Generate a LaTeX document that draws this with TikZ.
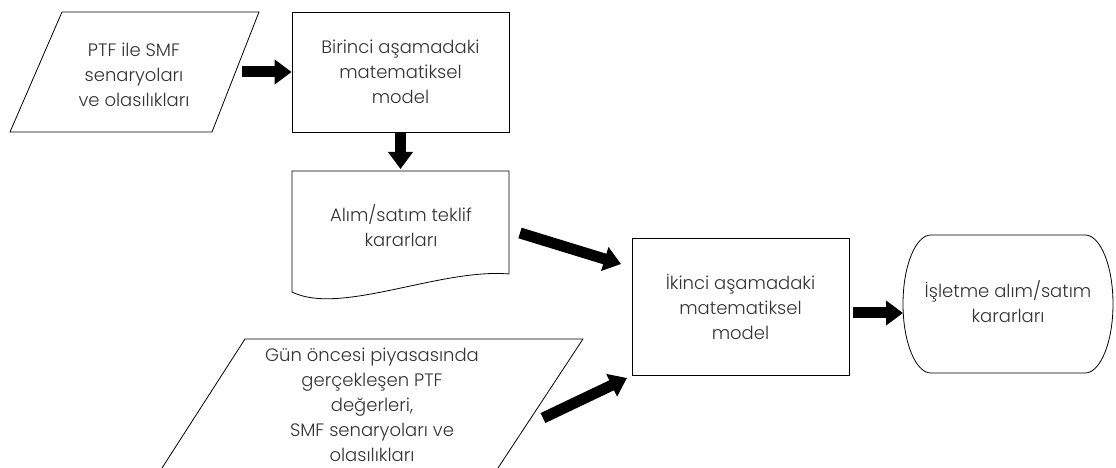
\documentclass[tikz,border=0pt]{standalone}
\usepackage{fontspec}
\setmainfont{Poppins Light}
\usetikzlibrary{arrows.meta}
\definecolor{txt}{HTML}{333333}
\begin{document}
\begin{tikzpicture}[x=1bp,y=-1bp,
  outline/.style={draw=black, line width=0.8bp},
  label/.style={text=txt, align=center, font=\fontsize{18bp}{25bp}\selectfont, inner sep=0pt},
  box/.style={outline, label, minimum width=217bp},
  blockarrow/.style={line width=11bp, -{Triangle[length=17bp,width=24bp]}}]
\useasboundingbox (0,0) rectangle (1116,468);

% first-stage input data (parallelogram)
\coordinate (p1a) at (62,12);
\coordinate (p1b) at (259,12);
\coordinate (p1c) at (212,132);
\coordinate (p1d) at (10,132);
\draw[outline] (p1a) -- (p1b) -- (p1c) -- (p1d) -- cycle;
\node[label] (inA) at (134,75) {PTF ile SMF\\senaryoları\\ve olasılıkları};

% first-stage model
\node[box, minimum height=120bp] (m1) at (400.5,72) {Birinci aşamadaki\\matematiksel\\model};

% bid decisions (document shape)
\coordinate (d1) at (292,171);
\coordinate (d2) at (509,171);
\coordinate (d3) at (509,274);
\coordinate (d4) at (292,292);
\draw[outline] (d1) -- (d2) -- (d3) .. controls (440,268) and (340,316) .. (d4) -- cycle;
\node[label] (bid) at (401,226) {Alım/satım teklif\\kararları};

% second-stage model
\node[box, minimum height=137bp] (m2) at (740.5,306.5) {İkinci aşamadaki\\matematiksel\\model};

% final decisions (terminal shape)
\draw[outline] (931,235) -- (1085,235)
  arc[start angle=-90, end angle=90, x radius=28, y radius=69]
  -- (931,373)
  arc[start angle=90, end angle=270, x radius=28, y radius=69] -- cycle;
\node[label] (out) at (1008,302) {İşletme alım/satım\\kararları};

% realised day-ahead data (parallelogram, running off the bottom)
\coordinate (p2a) at (162,468);
\coordinate (p2b) at (245,339);
\coordinate (p2c) at (583,339);
\coordinate (p2d) at (498,468);
\draw[outline] (p2a) -- (p2b) -- (p2c) -- (p2d);
\node[label] (inB) at (372,405) {Gün öncesi piyasasında\\gerçekleşen PTF\\değerleri,\\SMF senaryoları ve\\olasılıkları};

% connector ends
\coordinate (a1s) at (242,72);
\coordinate (a2e) at (400.5,169);
\coordinate (a3s) at (520,233);
\coordinate (a3e) at (621,264);
\coordinate (a4s) at (853,313);
\coordinate (a4e) at (903,313);
\coordinate (a5s) at (543,418);
\coordinate (a5e) at (627,378);

% block arrows
\draw[blockarrow] (a1s) -- (m1.west);
\draw[blockarrow] (m1.south) -- (a2e);
\draw[blockarrow] (a3s) -- (a3e);
\draw[blockarrow] (a4s) -- (a4e);
\draw[blockarrow] (a5s) -- (a5e);
\end{tikzpicture}
\end{document}
